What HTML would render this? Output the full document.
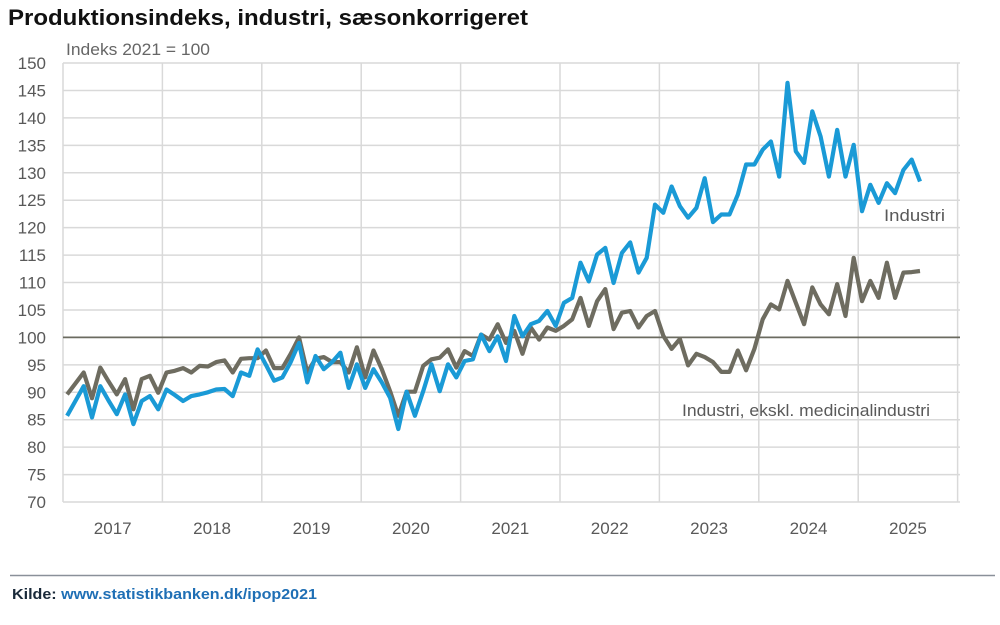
<!DOCTYPE html>
<html><head><meta charset="utf-8">
<style>
body{margin:0;background:#fff;width:1000px;height:625px;overflow:hidden;font-family:"Liberation Sans",Arial,sans-serif;}
svg{position:absolute;left:0;top:0;}
</style></head>
<body>
<svg id="chart" width="1000" height="625">
<text x="8" y="25" font-size="22" font-weight="bold" fill="#111" textLength="520" lengthAdjust="spacingAndGlyphs">Produktionsindeks, industri, sæsonkorrigeret</text>
<text x="66" y="55" font-size="17" fill="#666" textLength="144" lengthAdjust="spacingAndGlyphs">Indeks 2021 = 100</text>
<g id="grid"></g>
<g id="yticks"></g>
<g id="xticks"></g>
<g id="series"></g>
<text x="884" y="221" font-size="17" fill="#595959" textLength="61" lengthAdjust="spacingAndGlyphs">Industri</text>
<text x="682" y="416" font-size="17" fill="#595959" textLength="248" lengthAdjust="spacingAndGlyphs">Industri, ekskl. medicinalindustri</text>
<line x1="10" y1="575.5" x2="995" y2="575.5" stroke="#8a9099" stroke-width="1.5"/>
<text x="12" y="599" font-size="15" font-weight="bold" textLength="305" lengthAdjust="spacingAndGlyphs"><tspan fill="#1a2a3a">Kilde: </tspan><tspan fill="#1f6fb5">www.statistikbanken.dk/ipop2021</tspan></text>
</svg>
<script>
const yTicks=[70,75,80,85,90,95,100,105,110,115,120,125,130,135,140,145,150];
const years=["2017","2018","2019","2020","2021","2022","2023","2024","2025"];
const industri=[85.7,88.4,91.1,85.4,91.1,88.5,86.0,89.6,84.2,88.4,89.3,86.9,
90.5,89.5,88.4,89.3,89.6,90.0,90.5,90.6,89.3,93.6,93.0,97.8,
95.0,92.1,92.7,95.5,99.0,91.8,96.6,94.2,95.5,97.2,90.8,95.1,
90.8,94.2,91.8,89.0,83.3,90.1,85.7,90.2,95.1,90.2,95.1,92.7,
95.7,96.0,100.5,97.5,100.2,95.7,103.9,100.2,102.4,103.0,104.8,102.1,
106.3,107.2,113.6,110.2,115.1,116.3,109.9,115.4,117.3,111.8,
114.5,124.2,122.7,127.5,123.9,121.8,123.6,129.0,121.0,122.4,122.4,126.0,131.5,131.5,134.2,135.7,129.3,146.4,133.9,131.8,141.2,136.6,129.3,137.8,129.3,135.1,123.0,127.8,124.5,128.1,126.3,130.5,132.4,128.4];
const eksklMedicinal=[89.6,91.6,93.6,88.9,94.5,92.0,89.6,92.4,86.9,92.4,93.0,89.9,
93.6,93.9,94.4,93.6,94.8,94.7,95.5,95.8,93.6,96.1,96.2,96.2,
97.6,94.4,94.4,97.0,100.0,93.6,96.1,96.4,95.5,95.5,93.6,98.2,
92.7,97.6,94.2,90.2,85.7,90.1,90.1,94.8,96.0,96.3,97.8,94.5,
97.5,96.6,100.5,99.6,102.4,99.0,101.2,97.0,101.8,99.6,101.8,101.2,
102.1,103.3,107.2,102.1,106.6,108.8,101.5,104.5,104.8,101.8,
103.9,104.8,100.3,97.9,99.7,94.9,97.0,96.4,95.5,93.7,93.7,97.6,94.0,97.9,103.3,106.0,105.1,110.3,106.3,102.4,109.1,106.0,104.2,109.7,103.9,114.5,106.6,110.3,107.2,113.6,107.2,111.8,111.9,112.1];

const NS="http://www.w3.org/2000/svg";
const L=63,R=960,T=63,B=502,yearW=99.4,monthW=8.28;
const y=v=>B-(v-70)/(150-70)*(B-T);
const x=i=>L+(i+0.5)*monthW;
function mk(tag,attrs,parent){const e=document.createElementNS(NS,tag);for(const k in attrs)e.setAttribute(k,attrs[k]);parent.appendChild(e);return e;}
const grid=document.getElementById('grid'),yt=document.getElementById('yticks'),xt=document.getElementById('xticks'),se=document.getElementById('series');
yTicks.forEach(v=>{
  if(v!==100){const g=mk('line',{x1:L,x2:R,y1:y(v),y2:y(v),stroke:'#d9d9d9','stroke-width':1.5},grid);
  
  }
  const t=mk('text',{x:46,y:y(v)+6,'font-size':17,fill:'#595959','text-anchor':'end'},yt);
  t.textContent=v;
  
  
});
for(let k=0;k<=years.length;k++){
  const gx=Math.min(L+k*yearW,R);
  const g=mk('line',{x1:gx,x2:gx,y1:T,y2:B,stroke:'#d9d9d9','stroke-width':1.5},grid);
  
  
}
years.forEach((yr,k)=>{
  const t=mk('text',{x:L+(k+0.5)*yearW,y:534,'font-size':17,fill:'#595959','text-anchor':'middle'},xt);
  t.textContent=yr;
  
  
});
const base=mk('line',{x1:L,x2:R,y1:y(100),y2:y(100),stroke:'#6b6b60','stroke-width':1.8},grid);


function line(data,color,name){
  const p=mk('polyline',{points:data.map((v,i)=>x(i).toFixed(1)+','+y(v).toFixed(1)).join(' '),fill:'none',stroke:color,'stroke-width':4.2,'stroke-linejoin':'round'},se);
  
  
}
line(eksklMedicinal,'#6e6c60','line-industri-ekskl-medicinal');
line(industri,'#1a9ad6','line-industri');
</script>
</body></html>
